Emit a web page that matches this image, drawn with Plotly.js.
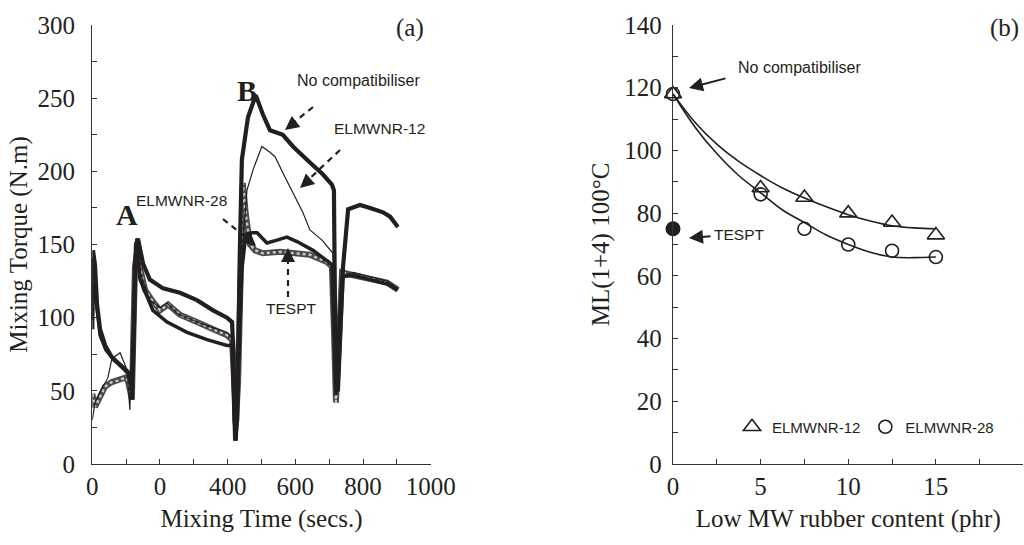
<!DOCTYPE html>
<html>
<head>
<meta charset="utf-8">
<script src="https://cdn.plot.ly/plotly-3.0.1.min.js"></script>
<style>html,body{margin:0;padding:0;background:#fff;}#chart{width:1024px;height:545px;}</style>
</head>
<body>
<div id="chart"></div>
<script>
// ---------- Panel (a): mixing torque vs time ----------
const noCompTime = [0,2,8,14,23,38,58,82,105,114,117,123,129,135,150,170,209,259,309,357,398,413,416,422,428,436,442,460,483,504,525,563,593,643,681,708,714,717,720,726,735,741,756,791,821,859,880,903];
const noCompTorque = [92,146,136,109,92,81,73,68,63,59,44,92,150,154,137,126,120,117,112,105,100,97,81,16,30,146,208,237,252,239,228,225,217,206,198,191,187,112,51,51,112,135,174,177,175,172,169,162];

const e12Time = [0,8,23,46,58,82,103,111,121,132,141,170,200,221,250,309,357,398,413,419,425,436,448,457,475,501,525,540,563,593,622,643,679,711,717,723,732,741,771,821,871,903];
const e12Torque = [30,42,49,59,72,76,64,37,114,153,131,112,107,110,103,97,93,90,86,44,23,112,160,187,201,217,213,210,199,185,172,160,153,144,92,57,98,129,131,128,125,120];

const e28Time = [0,2,11,23,40,64,88,105,114,120,126,132,141,179,221,280,339,398,413,419,425,434,442,454,472,487,516,546,575,605,652,693,708,714,720,729,738,771,821,871,903];
const e28Torque = [98,141,112,88,78,71,66,62,54,71,139,154,126,105,97,90,85,81,81,30,16,78,133,157,158,158,151,153,155,152,146,139,136,92,47,92,128,129,126,123,119];

const tesptTime = [0,8,23,38,58,76,97,105,117,126,135,141,156,176,200,224,259,309,357,398,413,419,425,431,439,445,454,466,481,504,555,593,643,693,708,714,720,729,738,771,821,871,903];
const tesptTorque = [48,39,46,53,56,57,59,57,44,135,148,134,119,112,105,109,102,97,92,88,85,51,30,57,146,192,170,150,146,144,145,144,143,138,135,92,42,85,131,129,127,124,119];

const timeTickVals = [0,200,400,600,800,1000];
const timeTickText = ["0","0","400","600","800","1000"];

// ---------- Panel (b): Mooney viscosity vs low MW rubber content ----------
const rubberContent = [0,5,7.5,10,12.5,15];
const ml12 = [118,88,85,80,77,73];
const ml28 = [118,86,75,70,68,66];
const tesptContent = [0];
const tesptML = [75];
const fitContent = [0,1.25,2.5,3.75,5,6.25,7.5,8.75,10,11.25,12.5,13.75,15];
const fit12 = [118,109,102,96.5,92,88,84.8,82,79.5,77.5,76,75.3,75];
const fit28 = [118,107.5,99,92,86.5,81,77,73,70,67.5,66,65.8,66];

const ink = '#231f20';
const serif = 'Liberation Serif, Times New Roman, serif';
const sans = 'Liberation Sans, Arial, sans-serif';

const traces = [
  {x: tesptTime, y: tesptTorque, xaxis:'x', yaxis:'y', mode:'lines', line:{color:'#4a4a4a', width:6}, showlegend:false, hoverinfo:'skip'},
  {x: tesptTime, y: tesptTorque, xaxis:'x', yaxis:'y', mode:'lines', line:{color:'#c8c8c8', width:2.4, dash:'dot'}, showlegend:false, hoverinfo:'skip'},
  {x: e28Time, y: e28Torque, xaxis:'x', yaxis:'y', mode:'lines', line:{color:ink, width:3.5}, showlegend:false},
  {x: noCompTime, y: noCompTorque, xaxis:'x', yaxis:'y', mode:'lines', line:{color:ink, width:4.2}, showlegend:false},
  {x: e12Time, y: e12Torque, xaxis:'x', yaxis:'y', mode:'lines', line:{color:ink, width:1.2}, showlegend:false},

  {x: fitContent, y: fit12, xaxis:'x2', yaxis:'y2', mode:'lines', line:{color:ink, width:1.6, shape:'spline'}, showlegend:false},
  {x: fitContent, y: fit28, xaxis:'x2', yaxis:'y2', mode:'lines', line:{color:ink, width:1.6, shape:'spline'}, showlegend:false},
  {x: rubberContent, y: ml12, xaxis:'x2', yaxis:'y2', mode:'markers', name:'ELMWNR-12', cliponaxis:false,
   marker:{symbol:'triangle-up-open', size:15, color:ink, line:{width:1.6, color:ink}}},
  {x: rubberContent, y: ml28, xaxis:'x2', yaxis:'y2', mode:'markers', name:'ELMWNR-28', cliponaxis:false,
   marker:{symbol:'circle-open', size:13, color:ink, line:{width:1.6, color:ink}}},
  {x: tesptContent, y: tesptML, xaxis:'x2', yaxis:'y2', mode:'markers', showlegend:false, cliponaxis:false,
   marker:{symbol:'circle', size:15, color:ink}}
];

// helpers: pixel -> paper (margins are 0 left/right, plot area y 25..464)
const PX = p => p/1024;
const PY = p => (464-p)/439;

function arrow(hx, hy, tx, ty){
  return {xref:'paper', yref:'paper', x:PX(hx), y:PY(hy), ax:tx-hx, ay:ty-hy, text:'',
          showarrow:true, arrowhead:2, arrowsize:1.4, arrowwidth:2, arrowcolor:ink, standoff:0};
}
function label(px, py, txt, size, font, extra){
  return Object.assign({xref:'paper', yref:'paper', x:PX(px), y:PY(py), text:txt, showarrow:false,
          font:{family:font, size:size, color:ink}, xanchor:'center', yanchor:'middle'}, extra||{});
}
function dash(x0,y0,x1,y1){
  return {type:'line', xref:'paper', yref:'paper', x0:PX(x0), y0:PY(y0), x1:PX(x1), y1:PY(y1),
          line:{color:ink, width:2.2, dash:'6px,5px'}};
}

const axisCommon = {showline:true, linecolor:'#333', linewidth:1.3, ticks:'inside', ticklen:5, tickwidth:1,
  tickcolor:'#333', showgrid:false, zeroline:false, mirror:false, automargin:false,
  tickfont:{family:serif, size:25, color:ink}};
const titleFont = {family:serif, size:25, color:ink};

const layout = {
  width:1024, height:545,
  margin:{l:0, r:0, t:25, b:81},
  paper_bgcolor:'#fff', plot_bgcolor:'#fff',
  xaxis: Object.assign({}, axisCommon, {domain:[PX(92.3), PX(430.7)], range:[0,1000], anchor:'y',
    tickvals:timeTickVals, ticktext:timeTickText,
    minor:{ticks:'inside', dtick:100, ticklen:5, tickcolor:'#333'},
    title:{text:'Mixing Time (secs.)', font:titleFont, standoff:10}}),
  yaxis: Object.assign({}, axisCommon, {domain:[0,1], range:[0,300], anchor:'x', dtick:50, ticklabelstandoff:11,
    minor:{ticks:'inside', dtick:25, ticklen:5, tickcolor:'#333'},
    title:{text:'Mixing Torque (N.m)', font:titleFont, standoff:2}}),
  xaxis2: Object.assign({}, axisCommon, {domain:[PX(673), 0.9995], range:[0,20], anchor:'y2', dtick:5,
    minor:{ticks:'inside', dtick:2.5, ticklen:5, tickcolor:'#333'},
    title:{text:'Low MW rubber content (phr)', font:titleFont, standoff:10}}),
  yaxis2: Object.assign({}, axisCommon, {domain:[0,1], range:[0,140], anchor:'x2', dtick:20, ticklabelstandoff:5,
    minor:{ticks:'inside', dtick:10, ticklen:5, tickcolor:'#333'},
    title:{text:'ML(1+4) 100°C', font:titleFont, standoff:7}}),
  showlegend:true,
  legend:{orientation:'h', x:PX(732), y:PY(427), xanchor:'left', yanchor:'middle',
    font:{family:sans, size:15, color:ink}, bgcolor:'rgba(0,0,0,0)', itemwidth:30, tracegroupgap:0},
  annotations:[
    label(410, 28, '(a)', 25, serif),
    label(1004, 28, '(b)', 25, serif),
    label(127, 214, '<b>A</b>', 30, serif),
    label(247, 91, '<b>B</b>', 30, serif),
    label(358, 80, 'No compatibiliser', 16, sans),
    label(379, 128, 'ELMWNR-12', 15.5, sans),
    label(181, 200, 'ELMWNR-28', 15.5, sans),
    label(291, 308, 'TESPT', 15.5, sans),
    label(799, 67, 'No compatibiliser', 16, sans),
    label(739, 235, 'TESPT', 15.5, sans),
    arrow(285, 130, 294, 123),
    arrow(300, 188, 309, 180),
    arrow(256, 246, 247, 238),
    arrow(288, 248, 288, 258),
    arrow(689, 88, 727, 78),
    arrow(689, 238, 712, 236)
  ],
  shapes:[
    dash(313, 107, 292, 124),
    dash(340, 150, 307, 181),
    dash(223, 219, 249, 240),
    dash(288, 297, 288, 256)
  ]
};

Plotly.newPlot('chart', traces, layout, {staticPlot:true, displayModeBar:false});
</script>
</body>
</html>
